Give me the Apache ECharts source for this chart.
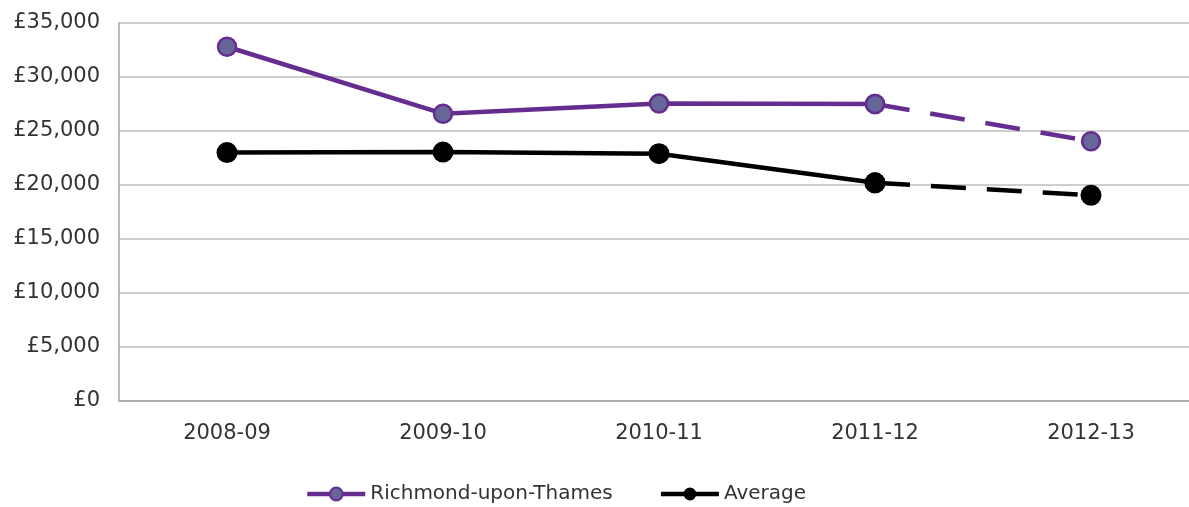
<!DOCTYPE html>
<html>
<head>
<meta charset="utf-8">
<script src="https://cdn.jsdelivr.net/npm/echarts@6/dist/echarts.min.js"></script>
<style>
html,body{margin:0;padding:0;background:#fff;overflow:hidden;width:1189px;height:507px;}
#chart{width:1215px;height:507px;}
</style>
</head>
<body>
<div id="chart"></div>
<script>
var categories = ['2008-09', '2009-10', '2010-11', '2011-12', '2012-13'];
var richmondSolid = [32800, 26600, 27550, 27500, '-'];
var richmondDashed = ['-', '-', '-', 27500, 24050];
var averageSolid = [23000, 23050, 22900, 20200, '-'];
var averageDashed = ['-', '-', '-', 20200, 19050];
var yTicks = { min: 0, max: 35000, interval: 5000 };

var FONT = 'DejaVu Sans';
var PURPLE = '#662D91';
var PURPLE_FILL = '#666699';

function fmt(v) {
  return '£' + String(v).replace(/\B(?=(\d{3})+(?!\d))/g, ',');
}

var chart = echarts.init(document.getElementById('chart'), null, { renderer: 'canvas' });

function lineSeries(name, data, color, fill, border, dashed, size) {
  return {
    name: name,
    type: 'line',
    data: data,
    symbol: 'circle',
    symbolSize: size,
    showAllSymbol: true,
    connectNulls: false,
    animation: false,
    lineStyle: { color: color, width: 4.5, type: dashed ? [35, 21] : 'solid', cap: 'butt' },
    itemStyle: { color: fill, borderColor: color, borderWidth: border },
    emphasis: { disabled: true }
  };
}

chart.setOption({
  animation: false,
  backgroundColor: '#ffffff',
  textStyle: { fontFamily: FONT },
  grid: { left: 119, top: 23, width: 1080, height: 378, containLabel: false },
  legend: {
    top: 479,
    left: 300,
    itemWidth: 58,
    itemHeight: 16,
    itemGap: 46,
    lineStyle: { width: 4.5 },
    textStyle: { fontFamily: FONT, fontSize: 20, color: '#333333' },
    data: ['Richmond-upon-Thames', 'Average']
  },
  xAxis: {
    type: 'category',
    data: categories,
    boundaryGap: true,
    axisLine: { lineStyle: { color: '#A6A6A6', width: 1.5 } },
    axisTick: { show: false },
    axisLabel: { fontFamily: FONT, fontSize: 21, color: '#333333', margin: 22 }
  },
  yAxis: {
    type: 'value',
    min: yTicks.min,
    max: yTicks.max,
    interval: yTicks.interval,
    axisLine: { show: true, lineStyle: { color: '#A6A6A6', width: 1.5 } },
    axisTick: { show: false },
    splitLine: { lineStyle: { color: '#BEBEBE', width: 1.5 } },
    axisLabel: { fontFamily: FONT, fontSize: 21, color: '#333333', margin: 19, formatter: fmt }
  },
  series: [
    lineSeries('Richmond-upon-Thames', richmondSolid, PURPLE, PURPLE_FILL, 2.5, false, 18),
    lineSeries('Average', averageSolid, '#000000', '#000000', 0, false, 21),
    lineSeries('Richmond-upon-Thames', richmondDashed, PURPLE, PURPLE_FILL, 2.5, true, 18),
    lineSeries('Average', averageDashed, '#000000', '#000000', 0, true, 21)
  ]
});
</script>
</body>
</html>
